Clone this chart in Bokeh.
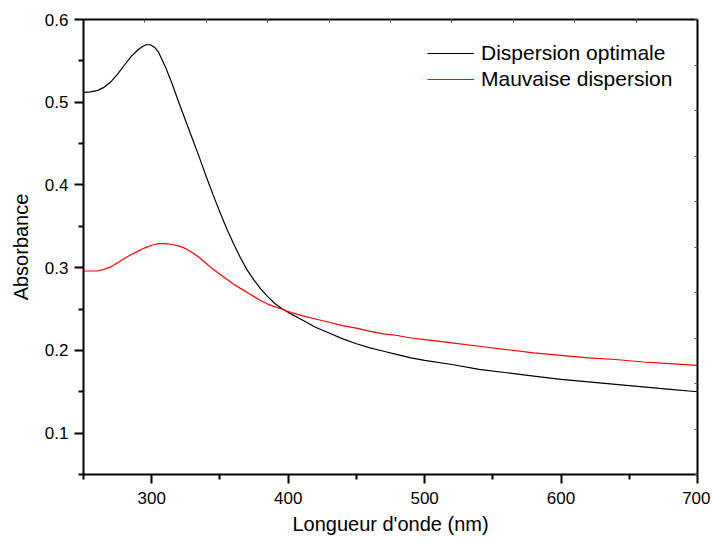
from bokeh.plotting import figure
from bokeh.models import (Range1d, LinearAxis, FixedTicker, Legend, LegendItem)
from bokeh.embed import file_html
from bokeh.resources import INLINE

# Wavelength (nm)
wavelength = [250, 255, 260, 265, 270, 275, 280, 285, 290, 293, 296, 299, 302, 305, 310, 315,
              320, 325, 330, 335, 340, 345, 350, 355, 360, 365, 370, 375, 380, 385,
              390, 395, 400, 410, 420, 430, 440, 450, 460, 470, 480, 490, 500, 520,
              540, 560, 580, 600, 620, 640, 660, 680, 700]

# Absorbance - Dispersion optimale
abs_optimale = [0.512, 0.5125, 0.514, 0.518, 0.5245, 0.534, 0.545, 0.5555, 0.5635, 0.567, 0.5695,
                0.5695, 0.5665, 0.5605, 0.543, 0.522, 0.499, 0.477, 0.455, 0.433, 0.410, 0.388,
                0.367, 0.347, 0.329, 0.312, 0.297, 0.285, 0.274, 0.265, 0.257, 0.251,
                0.246, 0.237, 0.228, 0.221, 0.214, 0.208, 0.203, 0.199, 0.195, 0.191,
                0.188, 0.183, 0.177, 0.173, 0.169, 0.165, 0.162, 0.159, 0.156, 0.153,
                0.150]

# Absorbance - Mauvaise dispersion
abs_mauvaise = [0.296, 0.296, 0.296, 0.298, 0.301, 0.306, 0.311, 0.316, 0.320, 0.3225, 0.3245,
                0.3265, 0.328, 0.329, 0.329, 0.328, 0.326, 0.323, 0.318, 0.312, 0.305, 0.298,
                0.292, 0.286, 0.280, 0.275, 0.270, 0.265, 0.260, 0.256, 0.253, 0.250,
                0.247, 0.242, 0.238, 0.234, 0.230, 0.227, 0.223, 0.220, 0.218, 0.215,
                0.213, 0.209, 0.205, 0.201, 0.197, 0.194, 0.191, 0.189, 0.186, 0.184,
                0.182]

x_ticks = [300, 400, 500, 600, 700]
x_minor = [250, 350, 450, 550, 650]
y_ticks = [0.1, 0.2, 0.3, 0.4, 0.5, 0.6]
y_minor = [0.05, 0.15, 0.25, 0.35, 0.45, 0.55]
mirror_ticks = [0, 1, 2, 3, 4, 5, 6, 7, 8, 9, 10]

series_labels = ["Dispersion optimale", "Mauvaise dispersion"]
x_title = "Longueur d'onde (nm)"
y_title = "Absorbance"

FONT = "Liberation Sans"

p = figure(width=710, height=541, output_backend="svg", toolbar_location=None,
           x_range=Range1d(250, 700), y_range=Range1d(0.05, 0.6),
           x_axis_location=None, y_axis_location=None,
           min_border_left=83, min_border_right=13, min_border_top=19, min_border_bottom=67)
p.outline_line_color = None
p.xgrid.visible = False
p.ygrid.visible = False
p.background_fill_color = "white"
p.border_fill_color = "white"

def style_main(ax):
    ax.axis_line_width = 2
    ax.axis_line_color = "black"
    ax.major_tick_line_width = 2
    ax.major_tick_line_color = "black"
    ax.minor_tick_line_width = 2
    ax.minor_tick_line_color = "black"
    ax.major_tick_out = 9
    ax.major_tick_in = 0
    ax.minor_tick_out = 5
    ax.minor_tick_in = 0
    ax.major_label_text_font = FONT
    ax.major_label_text_font_size = "17px"
    ax.major_label_text_color = "black"
    ax.axis_label_text_font = FONT
    ax.axis_label_text_font_size = "20px"
    ax.axis_label_text_font_style = "normal"
    ax.axis_label_text_color = "black"

xaxis = LinearAxis(ticker=FixedTicker(ticks=x_ticks, minor_ticks=x_minor),
                   axis_label=x_title)
style_main(xaxis)
xaxis.major_label_standoff = 8
xaxis.axis_label_standoff = 6
p.add_layout(xaxis, "below")

yaxis = LinearAxis(ticker=FixedTicker(ticks=y_ticks, minor_ticks=y_minor),
                   axis_label=y_title)
style_main(yaxis)
yaxis.major_label_standoff = 6
yaxis.axis_label_standoff = 10
p.add_layout(yaxis, "left")

# mirror axes (top/right) with small inward ticks
p.extra_x_ranges = {"top": Range1d(0, 10)}
p.extra_y_ranges = {"right": Range1d(0, 10)}
for loc, rng in (("above", "top"), ("right", "right")):
    kw = {"x_range_name": rng} if loc == "above" else {"y_range_name": rng}
    ax = LinearAxis(ticker=FixedTicker(ticks=mirror_ticks, minor_ticks=[]), **kw)
    ax.axis_line_width = 2
    ax.axis_line_color = "black"
    ax.major_tick_in = 3
    ax.major_tick_out = 0
    ax.major_tick_line_width = 1
    ax.major_tick_line_color = "#555555"
    ax.minor_tick_line_color = None
    ax.major_label_text_font_size = "0px"
    ax.major_label_standoff = 0
    ax.major_label_text_color = None
    p.add_layout(ax, loc)

r1 = p.line(wavelength, abs_optimale, line_color="black", line_width=1.2)
r2 = p.line(wavelength, abs_mauvaise, line_color="#ff0000", line_width=1.2)

legend = Legend(items=[LegendItem(label=series_labels[0], renderers=[r1]),
                       LegendItem(label=series_labels[1], renderers=[r2])],
                location=(344, 383))
legend.border_line_color = None
legend.background_fill_alpha = 0
legend.padding = 0
legend.margin = 0
legend.spacing = 2
legend.glyph_width = 47
legend.glyph_height = 20
legend.label_height = 20
legend.label_standoff = 7
legend.label_text_font = FONT
legend.label_text_font_size = "21px"
legend.label_text_color = "black"
p.add_layout(legend, "center")

open("out.html", "w").write(file_html(p, INLINE))
